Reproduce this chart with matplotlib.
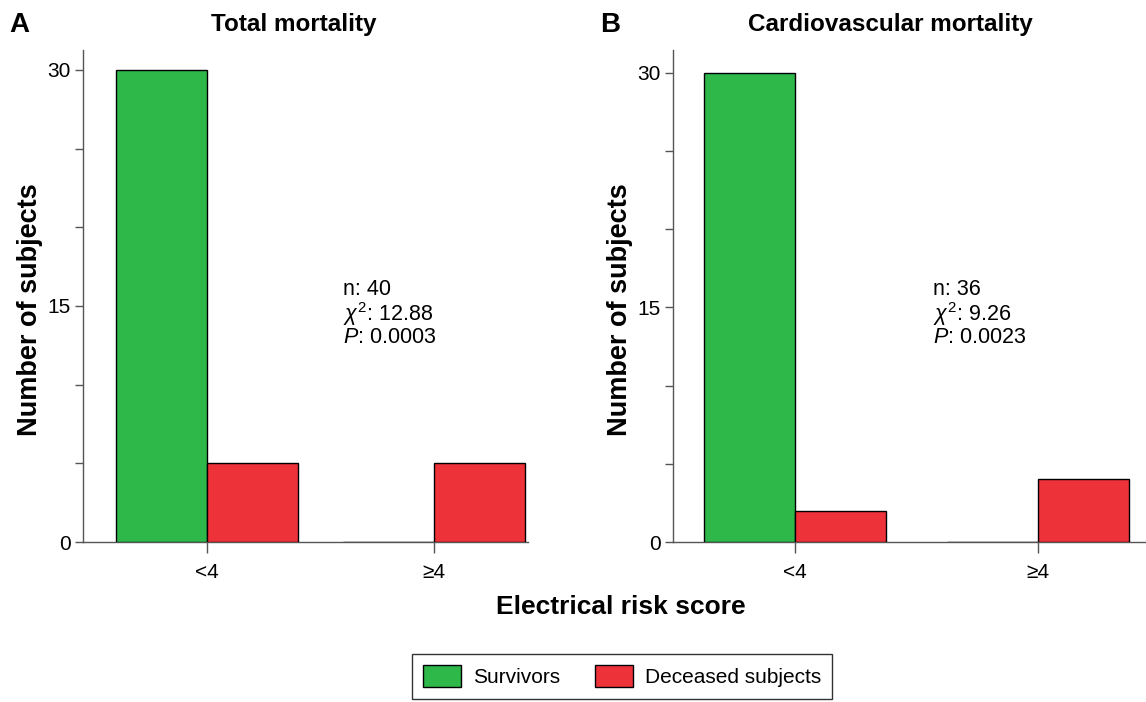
import matplotlib
matplotlib.use("Agg")
import matplotlib.pyplot as plt
from matplotlib.patches import Patch

plt.rcParams['font.family'] = ['Liberation Sans', 'DejaVu Sans']
plt.rcParams['mathtext.fontset'] = 'custom'
plt.rcParams['mathtext.rm'] = 'Liberation Sans'
plt.rcParams['mathtext.it'] = 'Liberation Sans:italic'

categories = ["<4", "≥4"]
series_names = ["Survivors", "Deceased subjects"]
total_survivors = [30, 0]
total_deceased = [5, 5]
cv_survivors = [30, 0]
cv_deceased = [2, 4]
panel_titles = ["Total mortality", "Cardiovascular mortality"]
panel_letters = ["A", "B"]
stats_total = ["n: 40", r"$\chi^2$: 12.88", r"$P$: 0.0003"]
stats_cv = ["n: 36", r"$\chi^2$: 9.26", r"$P$: 0.0023"]
yticks = [0, 5, 10, 15, 20, 25, 30]
ytick_labels = ["0", "", "", "15", "", "", "30"]

GREEN = "#2fb84a"
RED = "#ee3239"
AX_GRAY = "#555555"

W, H = 1146, 702
fig = plt.figure(figsize=(W / 100, H / 100), dpi=100)

def px_axes(left, right, top, bottom):
    return fig.add_axes([left / W, 1 - bottom / H, (right - left) / W, (bottom - top) / H])

axA = px_axes(83, 528, 50, 542)
axB = px_axes(673, 1146, 50, 542)

panels = [
    (axA, total_survivors, total_deceased, 0.40, (-0.546, 1.414), 31.27, stats_total, (343, 290), 30),
    (axB, cv_survivors, cv_deceased, 0.374, (-0.502, 1.444), 31.47, stats_cv, (933, 290), 620),
]

for ax, surv, dec, bw, xl, ytop, stats, tpos, ylx in panels:
    x = list(range(len(categories)))
    ax.bar([i - bw / 2 for i in x], surv, width=bw, color=GREEN, edgecolor="black", linewidth=1.0, zorder=3)
    ax.bar([i + bw / 2 for i in x], dec, width=bw, color=RED, edgecolor="black", linewidth=1.0, zorder=3)
    ax.set_xlim(*xl)
    ax.set_ylim(0, ytop)
    ax.set_xticks(x)
    ax.set_xticklabels(categories, fontsize=15)
    ax.set_yticks(yticks)
    ax.set_yticklabels(ytick_labels, fontsize=15)
    for s in ["top", "right"]:
        ax.spines[s].set_visible(False)
    for s in ["left", "bottom"]:
        ax.spines[s].set_color(AX_GRAY)
        ax.spines[s].set_linewidth(1.0)
    ax.tick_params(axis="y", length=6, color=AX_GRAY, width=1.0, pad=3)
    ax.tick_params(axis="x", length=8, color=AX_GRAY, width=1.0, pad=7)
    fig.text(ylx / W, 1 - 310 / H, "Number of subjects", fontsize=19.5, fontweight="bold",
             rotation=90, ha="center", va="center")
    ys = [tpos[1], tpos[1] + 24, tpos[1] + 48]
    for t, yy in zip(stats, ys):
        fig.text(tpos[0] / W, 1 - yy / H, t, fontsize=15.5, ha="left", va="center")

fig.text(294 / W, 1 - 25 / H, panel_titles[0], fontsize=17.5, fontweight="bold", ha="center", va="center")
fig.text(890 / W, 1 - 25 / H, panel_titles[1], fontsize=17.5, fontweight="bold", ha="center", va="center")
fig.text(9 / W, 1 - 25 / H, panel_letters[0], fontsize=20, fontweight="bold", ha="left", va="center")
fig.text(600 / W, 1 - 25 / H, panel_letters[1], fontsize=20, fontweight="bold", ha="left", va="center")

fig.text(621 / W, 1 - 607 / H, "Electrical risk score", fontsize=19, fontweight="bold", ha="center", va="center")

handles = [Patch(facecolor=GREEN, edgecolor="black", linewidth=1.0),
           Patch(facecolor=RED, edgecolor="black", linewidth=1.0)]
leg = fig.legend(handles, series_names, loc="upper center", bbox_to_anchor=(622 / W, 1 - 654 / H),
                 ncol=2, fontsize=15, frameon=True, fancybox=False, edgecolor="black",
                 handlelength=1.83, handleheight=1.2, handletextpad=0.55, columnspacing=1.7,
                 borderpad=0.55, borderaxespad=0)
leg.get_frame().set_linewidth(1.0)

fig.savefig("out.png", dpi=100)
